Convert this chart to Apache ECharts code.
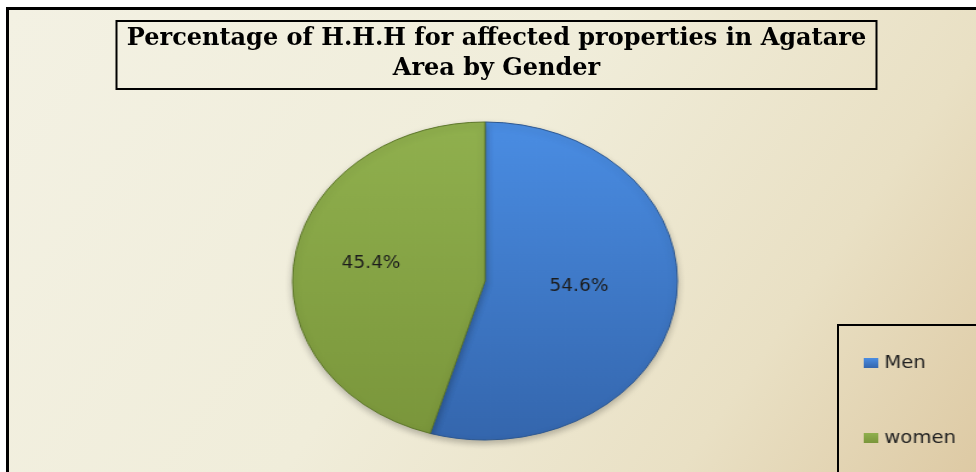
<!DOCTYPE html>
<html>
<head>
<meta charset="utf-8">
<script src="https://cdn.jsdelivr.net/npm/echarts@6/dist/echarts.min.js"></script>
<style>
  html, body { margin: 0; padding: 0; width: 976px; height: 472px; overflow: hidden; background: #fff; }
  .frame {
    position: absolute; left: 6px; top: 7px; width: 990px; height: 480px;
    border-left: 3px solid #000; border-top: 3px solid #000;
    background: linear-gradient(125deg, #f3f1e3 0%, #f0edda 45%, #e9e0c4 75%, #dcc7a0 100%);
  }
  .layer { position: absolute; left: 0; top: 0; width: 976px; height: 472px; }
  #mainChart { width: 993px; }
  #pieChart { transform-origin: 485px 281px; transform: scaleX(1.21); }
</style>
</head>
<body>
<div class="frame"></div>
<div id="pieChart" class="layer"></div>
<div id="mainChart" class="layer"></div>
<script>
const categories = ['Men', 'women']
const shares = [54.6, 45.4]
const titleText = 'Percentage of H.H.H for affected properties in Agatare\nArea by Gender'

const sliceColors = [
  { top: '#4a8de3', bottom: '#3466ad', edge: '#2c5790' },
  { top: '#90b04e', bottom: '#7a963b', edge: '#5c7629' }
]
// horizontal nudge for the inside labels (unscaled px)
const labelPadRight = [8, 25]

const grad = c => new echarts.graphic.LinearGradient(0, 0, 0, 1, [
  { offset: 0, color: c.top },
  { offset: 1, color: c.bottom }
])

// pie lives in a horizontally stretched layer so it comes out as an ellipse
const pieChart = echarts.init(document.getElementById('pieChart'))
pieChart.setOption({
  animation: false,
  legend: {
    orient: 'vertical',
    left: 793,
    top: 348,
    itemGap: 55,
    itemWidth: 12,
    itemHeight: 10,
    icon: 'rect',
    itemStyle: { borderWidth: 0, shadowBlur: 0 },
    textStyle: { fontFamily: 'DejaVu Sans Condensed', fontSize: 18, lineHeight: 20, color: '#222' },
    data: categories
  },
  series: [{
    type: 'pie',
    center: [485, 281],
    radius: 159,
    startAngle: 90,
    clockwise: true,
    label: {
      position: 'inside',
      formatter: '{c}%\n ',
      lineHeight: 12,
      fontFamily: 'DejaVu Sans Condensed',
      fontSize: 17,
      color: '#1c1c1c'
    },
    labelLine: { show: false },
    emphasis: { disabled: true },
    data: categories.map((name, i) => ({
      name,
      value: shares[i],
      label: { padding: [0, labelPadRight[i], 0, 0] },
      itemStyle: {
        color: grad(sliceColors[i]),
        borderColor: sliceColors[i].edge,
        borderWidth: 1,
        shadowBlur: 6,
        shadowOffsetY: 3,
        shadowColor: 'rgba(0,0,0,0.25)'
      }
    }))
  }]
})

const mainChart = echarts.init(document.getElementById('mainChart'))
mainChart.setOption({
  animation: false,
  title: {
    text: titleText,
    left: 'center',
    top: 21,
    padding: [3, 11, 5, 11],
    borderColor: '#000',
    borderWidth: 2,
    textStyle: {
      fontFamily: 'DejaVu Serif',
      fontWeight: 'bold',
      fontSize: 24,
      lineHeight: 30,
      color: '#000'
    }
  },
  graphic: [{
    type: 'rect',
    shape: { x: 838, y: 325, width: 200, height: 200 },
    style: { fill: 'none', stroke: '#000', lineWidth: 2 }
  }]
})
</script>
</body>
</html>
